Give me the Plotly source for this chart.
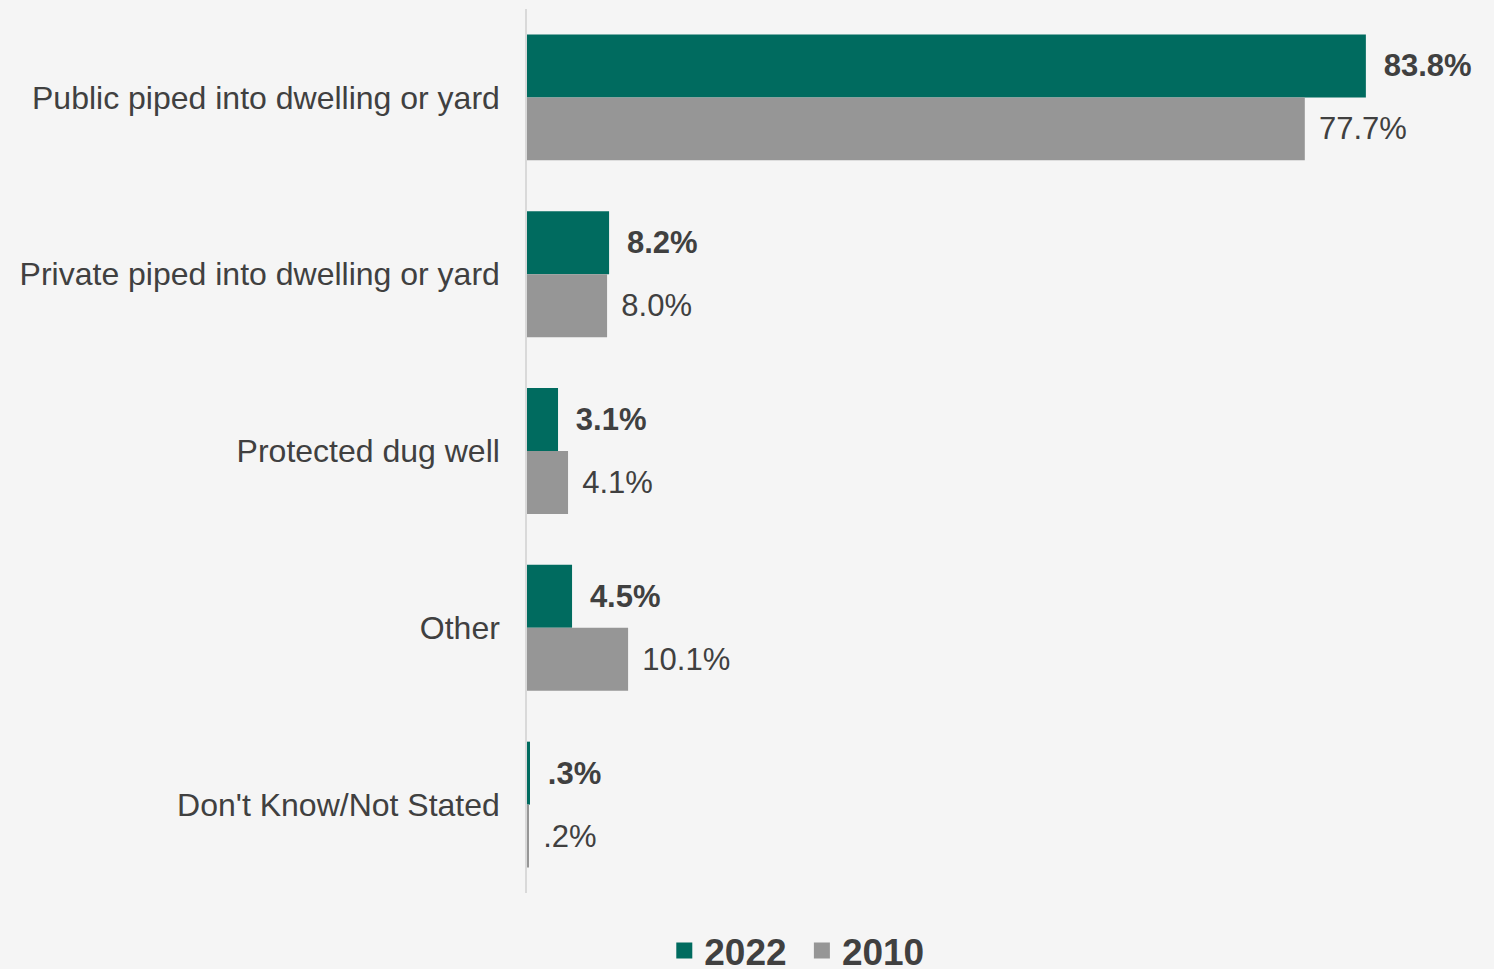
import plotly.graph_objects as go

categories = [
    "Public piped into dwelling or yard",
    "Private piped into dwelling or yard",
    "Protected dug well",
    "Other",
    "Don't Know/Not Stated",
]
values_2022 = [83.8, 8.2, 3.1, 4.5, 0.3]
values_2010 = [77.7, 8.0, 4.1, 10.1, 0.2]

c2022 = "#006B5F"
c2010 = "#969696"
txt = "#404040"
bg = "#F5F5F5"
font = "Liberation Sans, Arial, sans-serif"


def fmt(v):
    s = f"{v:.1f}%"
    return s[1:] if s.startswith("0.") else s


fig = go.Figure()
fig.add_trace(go.Bar(
    y=categories, x=values_2022, orientation="h", name="2022",
    marker=dict(color=c2022, line=dict(width=0)),
    text=[" \u2009<b>" + fmt(v) + "</b>" for v in values_2022],
    textposition="outside", constraintext="none", cliponaxis=False,
    textfont=dict(family=font, size=31, color=txt),
    showlegend=False,
))
fig.add_trace(go.Bar(
    y=categories, x=values_2010, orientation="h", name="2010",
    marker=dict(color=c2010, line=dict(width=0)),
    text=[" \u200a" + fmt(v) for v in values_2010],
    textposition="outside", constraintext="none", cliponaxis=False,
    textfont=dict(family=font, size=31, color=txt),
    showlegend=False,
))
# legend entries with square symbols
for name, col in [("2022 ", c2022), ("2010", c2010)]:
    fig.add_trace(go.Scatter(
        x=[None], y=[None], mode="markers", name=name,
        marker=dict(symbol="square", size=19, color=col),
        showlegend=True,
    ))

fig.update_layout(
    width=1494, height=969,
    paper_bgcolor=bg, plot_bgcolor=bg,
    margin=dict(l=527, r=0, t=8.5, b=75.5, autoexpand=False),
    barmode="group", bargap=0.288, bargroupgap=0,
    font=dict(family=font, color=txt),
    legend=dict(
        orientation="h", x=0.279, xanchor="center", y=-0.0655, yanchor="middle",
        font=dict(family=font, size=37, color=txt, weight="bold"),
        bgcolor="rgba(0,0,0,0)", itemwidth=30, tracegroupgap=0,
    ),
    xaxis=dict(range=[0, 96.6], visible=False, showgrid=False, zeroline=False),
    yaxis=dict(
        autorange="reversed", showgrid=False, zeroline=False,
        showline=True, linecolor="#D9D9D9", linewidth=1.5,
        ticks="", ticklabelstandoff=19,
        tickfont=dict(family=font, size=32, color=txt),
    ),
)

fig.write_html(
    "out.html",
    config={"displayModeBar": False},
    post_script="document.body.style.margin='0';document.body.style.overflow='hidden';",
)
